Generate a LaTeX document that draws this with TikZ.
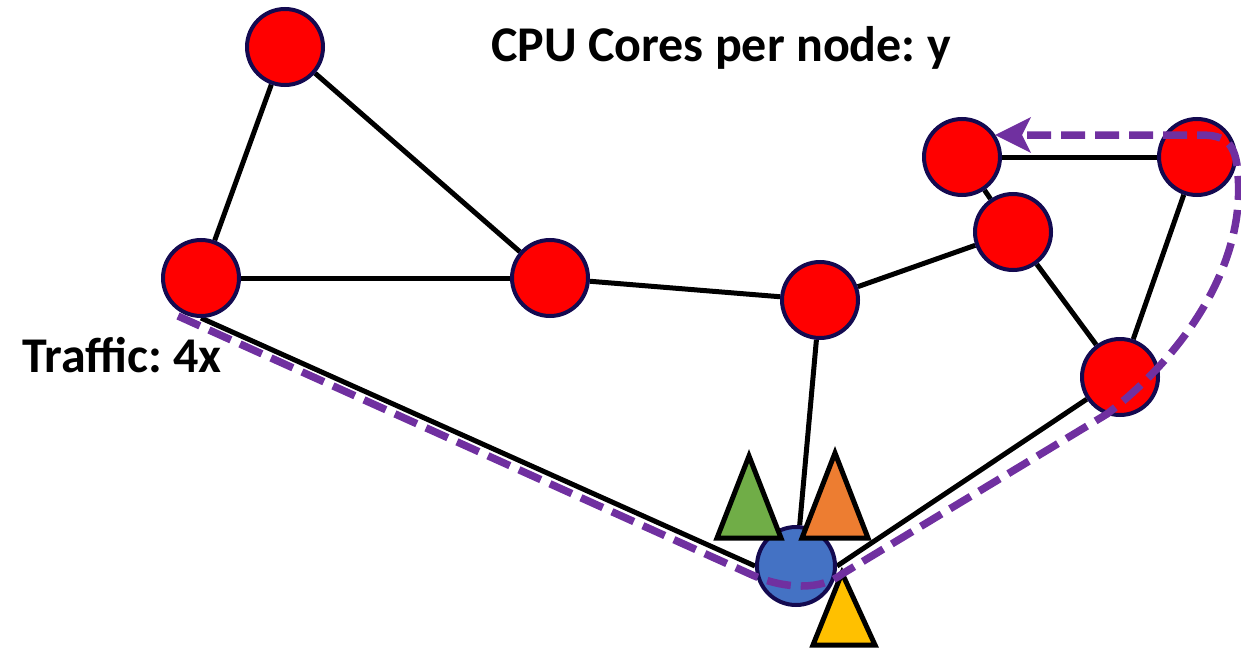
\documentclass[tikz,border=0pt]{standalone}
\usepackage{fontspec}
\setmainfont{Carlito}
\usetikzlibrary{arrows.meta}
\definecolor{rim}{RGB}{20,10,80}
\definecolor{route}{RGB}{112,48,160}
\definecolor{hostblue}{RGB}{68,114,196}
\definecolor{tgreen}{RGB}{112,173,71}
\definecolor{torange}{RGB}{237,125,49}
\definecolor{tyellow}{RGB}{255,192,0}
\pgfdeclarelayer{links}
\pgfsetlayers{links,main}
\tikzset{
  vertex/.style={circle, fill=red, draw=rim, line width=4pt, minimum size=76pt, inner sep=0pt},
  host/.style={circle, fill=hostblue, draw=rim, line width=4pt, minimum size=78pt, inner sep=0pt},
  link/.style={draw=black, line width=5pt},
  token/.style={draw=black, line width=5pt, line join=miter},
  path route/.style={draw=route, line width=7.5pt, dash pattern=on 24pt off 10pt},
  caption/.style={font=\bfseries\fontsize{50}{56}\selectfont, anchor=base, inner sep=0pt}
}
\frenchspacing
\begin{document}
\begin{tikzpicture}[x=1pt, y=-1pt]
\useasboundingbox (0,0) rectangle (1241,650);

% graph vertices
\node[vertex] (A) at (285,47) {};
\node[vertex] (B) at (201,278) {};
\node[vertex] (C) at (550,278) {};
\node[vertex] (D) at (820,300) {};
\node[vertex] (E) at (962,157) {};
\node[vertex] (F) at (1197,157) {};
\node[vertex] (G) at (1013,232) {};
\node[vertex] (H) at (1120,377) {};
\node[host] (S) at (796,566) {};

% links, kept behind the vertices
\begin{pgfonlayer}{links}
\path[link] (A) -- (B);
\path[link] (A) -- (C);
\path[link] (B) -- (C);
\path[link] (C) -- (D);
\path[link] (D) -- (G);
\path[link] (G) -- (E);
\path[link] (E) -- (F);
\path[link] (F) -- (H);
\path[link] (G) -- (H);
\path[link] (D) -- (S);
\path[link] (B.south) -- (S.west);
\path[link] (S.east) -- (H);
\end{pgfonlayer}

% tokens around the host
\path[token, fill=tgreen] (749,456) -- (781,538) -- (717,538) -- cycle;
\path[token, fill=torange] (835,453) -- (868,538) -- (802,538) -- cycle;
\path[token, fill=tyellow] (842,573) -- (875,645) -- (813,645) -- cycle;

% traffic route
\coordinate (r0) at (178,316);
\coordinate (r1) at (750,574);
\coordinate (r2) at (842,574);
\coordinate (r3) at (1107,414);
\coordinate (r4) at (1238,175);
\coordinate (r5) at (1200,135);
\coordinate (r6) at (995,135);
\path[path route, -{Stealth[length=36pt, width=36pt, inset=9pt, line width=0pt, fill=route]}]
  (r0) -- (r1) .. controls (785,590) and (822,590) .. (r2) -- (r3)
  .. controls (1190,350) and (1245,260) .. (r4)
  .. controls (1236,142) and (1225,135) .. (r5) -- (r6);

% captions
\node[caption] (cpu) at (721,62) {CPU Cores per node: y};
\node[caption] (traffic) at (122,372) {Traffic: 4x};
\end{tikzpicture}
\end{document}
